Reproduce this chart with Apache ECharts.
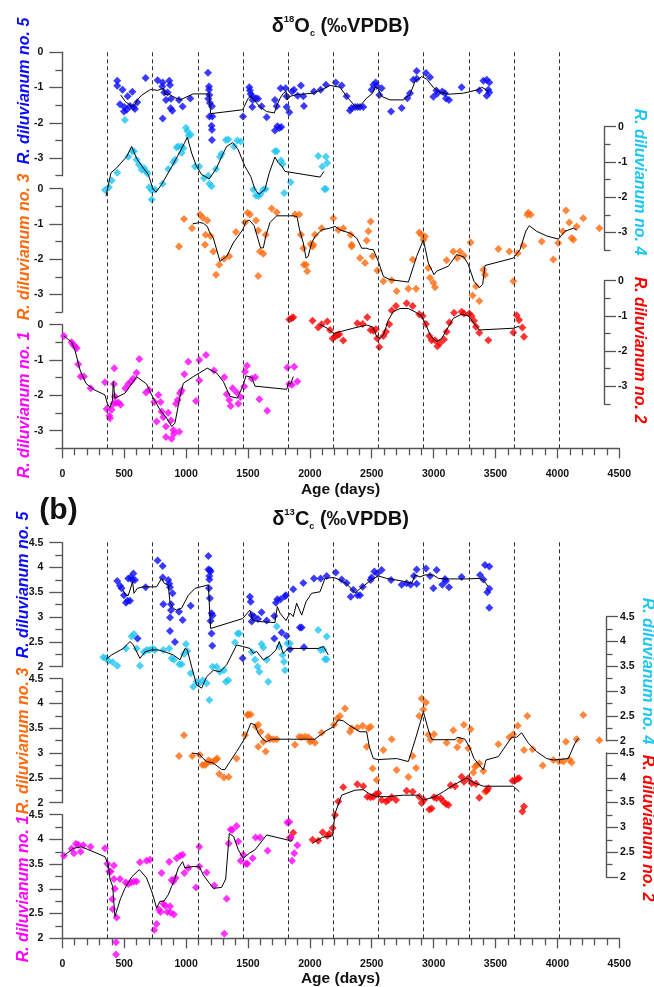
<!DOCTYPE html>
<html><head><meta charset="utf-8">
<script src="https://cdn.jsdelivr.net/npm/echarts@6/dist/echarts.min.js"></script>
<style>html,body{margin:0;padding:0;background:#fff}#c{width:654px;height:987px}</style>
</head><body><div id="c"></div>
<script>
const FONT = '"Liberation Sans", Arial, Helvetica, sans-serif';
const yearMarks = [365,730,1095,1460,1825,2190,2555,2920,3285,3650,4015];
const aMajors = [0,-1,-2,-3];
const aMinors = [-0.5,-1.5,-2.5,-3.5];
const bMajors = [2,2.5,3,3.5,4,4.5];
const bMinors = [2.25,2.75,3.25,3.75,4.25];

// ---------- Panel (a) d18O ----------
const a5Pts = [[444,-0.81],[444,-0.95],[487,-1.06],[466,-1.47],[528,-1.25],[501,-1.55],[566,-1.12],[547,-1.52],[520,-1.63],[574,-1.55],[587,-1.61],[606,-1.42],[498,-1.68],[673,-0.73],[770,-0.79],[811,-0.86],[808,-0.97],[864,-0.81],[870,-0.93],[824,-1.14],[851,-1.14],[838,-1.35],[878,-1.32],[875,-1.59],[889,-1.66],[811,-1.88],[943,-1.35],[972,-1.54],[1034,-1.31],[1177,-0.58],[1185,-0.97],[1185,-1.06],[1188,-1.21],[1180,-1.32],[1193,-1.44],[1209,-1.53],[1188,-1.82],[1212,-1.82],[1206,-2.08],[1209,-2.2],[1209,-2.49],[1460,-1.82],[1511,-0.99],[1516,-1.08],[1522,-1.18],[1535,-1.25],[1538,-1.35],[1535,-1.55],[1565,-1.30],[1581,-1.32],[1610,-1.53],[1651,-1.84],[1718,-1.35],[1732,-1.53],[1764,-1.02],[1804,-1.02],[1812,-1.55],[1834,-1.70],[1718,-2.22],[1737,-2.10],[1753,-2.15],[1769,-2.12],[1812,-1.25],[1855,-1.11],[1872,-1.06],[1901,-1.23],[1928,-0.94],[1947,-1.25],[1952,-1.52],[2033,-1.11],[2087,-1.06],[2130,-0.92],[2209,-0.86],[2257,-0.94],[2297,-1.25],[2338,-1.58],[2324,-1.65],[2365,-1.55],[2386,-1.55],[2405,-1.55],[2432,-1.55],[2499,-1.06],[2513,-0.92],[2532,-0.86],[2540,-0.95],[2561,-1.21],[2580,-1.02],[2656,-1.68],[2742,-1.58],[2788,-1.30],[2809,-1.16],[2836,-0.78],[2863,-0.75],[2863,-0.53],[2938,-0.59],[2971,-0.71],[2998,-1.26],[3022,-1.08],[3030,-1.17],[3070,-1.11],[3092,-1.16],[3100,-1.31],[3124,-1.35],[3226,-0.99],[3369,-1.08],[3402,-0.81],[3429,-0.78],[3450,-0.86],[3442,-1.06],[3450,-1.14],[3429,-1.23]];
const a5Line = [[471,-1.21],[510,-1.40],[560,-1.53],[585,-1.50],[606,-1.35],[640,-1.22],[714,-1.05],[770,-1.08],[816,-1.02],[830,-1.20],[860,-1.18],[891,-1.25],[951,-1.35],[1058,-1.18],[1188,-1.18],[1198,-1.74],[1457,-1.63],[1503,-1.30],[1520,-1.25],[1549,-1.35],[1592,-1.53],[1651,-1.68],[1713,-1.72],[1732,-1.52],[1760,-1.30],[1786,-1.16],[1807,-1.11],[1818,-1.35],[1840,-1.25],[1893,-1.20],[2028,-1.16],[2109,-1.04],[2163,-0.94],[2243,-0.99],[2297,-1.25],[2365,-1.53],[2405,-1.52],[2459,-1.30],[2507,-1.16],[2526,-0.99],[2550,-1.02],[2580,-1.25],[2647,-1.35],[2755,-1.35],[2809,-1.20],[2849,-0.83],[2903,-0.69],[2944,-0.76],[2998,-1.00],[3051,-1.13],[3119,-1.19],[3240,-1.16],[3361,-1.06],[3388,-0.99],[3415,-1.04],[3442,-1.11]];

const a4Pts = [[345,-1.80],[377,-1.72],[399,-1.53],[444,-1.31],[506,0.19],[533,-0.85],[566,-0.70],[579,-0.70],[600,-0.94],[619,-1.08],[641,-1.22],[660,-1.17],[676,-1.27],[689,-1.33],[703,-1.72],[722,-1.81],[722,-2.07],[749,-1.78],[811,-1.62],[856,-1.20],[897,-1.01],[910,-0.94],[924,-0.59],[937,-0.56],[964,-0.56],[964,-0.75],[978,-0.61],[999,-0.03],[1010,-0.12],[1021,-0.26],[1037,-0.23],[1072,-1.13],[1107,-1.13],[1145,-1.46],[1180,-1.39],[1188,-1.62],[1206,-1.69],[1241,-1.20],[1274,-0.85],[1287,-0.77],[1322,-0.38],[1341,-0.36],[1387,-0.56],[1414,-0.39],[1441,-0.42],[1543,-1.78],[1565,-1.95],[1583,-1.97],[1602,-1.92],[1624,-1.78],[1643,-1.77],[1718,-0.70],[1732,-0.70],[1767,-0.96],[1780,-1.06],[1793,-1.88],[1845,-1.58],[2068,-0.83],[2100,-1.13],[2130,-0.85],[2140,-1.03],[2118,-1.77],[2130,-1.77]];
const a4Line = [[353,-1.97],[393,-1.31],[439,-1.17],[520,-0.85],[560,-0.56],[600,-0.90],[650,-1.15],[695,-1.36],[730,-1.74],[757,-1.86],[802,-1.64],[870,-1.22],[937,-0.80],[986,-0.47],[1010,-0.30],[1045,-0.75],[1085,-1.13],[1126,-1.36],[1188,-1.48],[1247,-1.17],[1287,-0.85],[1328,-0.56],[1376,-0.45],[1422,-0.66],[1476,-1.13],[1522,-1.41],[1557,-1.78],[1589,-1.92],[1637,-1.78],[1672,-1.31],[1718,-0.86],[1745,-1.03],[1772,-1.11],[1799,-1.27],[2082,-1.43],[2114,-1.27]];

const a3Pts = [[983,-0.86],[1048,-1.12],[943,-1.64],[1112,-0.73],[1134,-0.82],[1171,-0.90],[1158,-1.31],[1198,-1.34],[1403,-1.23],[1476,-0.96],[1497,-0.68],[1516,-0.73],[1565,-0.90],[1643,-1.31],[1691,-0.56],[1732,-0.67],[1880,-0.73],[1915,-0.73],[1928,-1.31],[2095,-1.12],[2041,-1.31],[2006,-1.57],[2022,-1.64],[1947,-1.69],[1153,-1.59],[1220,-1.78],[1242,-2.44],[1268,-2.16],[1306,-1.99],[1349,-1.92],[1597,-1.78],[1624,-1.85],[1583,-2.48],[1583,-1.19],[1952,-2.16],[1969,-2.16],[1979,-2.34],[2028,-1.59],[2190,-0.84],[2230,-1.17],[2270,-1.12],[2330,-1.31],[2338,-1.64],[2459,-1.47],[2473,-1.21],[2491,-0.93],[2884,-1.24],[2903,-1.31],[2930,-1.36],[2917,-1.45],[3299,-1.53],[3765,-0.68],[3784,-0.74],[3757,-0.74],[3873,-1.50],[4007,-1.54],[4043,-1.21],[4069,-0.62],[4096,-0.96],[4155,-1.07],[4129,-1.45],[4209,-0.84],[4339,-1.12],[2405,-1.97],[2446,-2.11],[2507,-1.92],[2545,-2.32],[2594,-2.63],[2661,-2.60],[2701,-2.91],[2796,-2.84],[2858,-2.84],[2831,-2.01],[2957,-2.25],[2971,-2.53],[2998,-2.67],[3011,-2.80],[3105,-2.03],[3159,-1.78],[3191,-1.97],[3213,-1.78],[3245,-1.90],[3315,-3.03],[3342,-2.77],[3369,-3.19],[3402,-2.30],[3415,-2.44],[3523,-1.71],[3612,-1.78],[3644,-2.63],[3679,-1.83],[3725,-1.62],[3967,-2.01],[4115,-1.40],[2338,-1.59]];
const a3Line = [[1053,-1.00],[1107,-0.96],[1140,-0.98],[1171,-1.07],[1193,-1.26],[1220,-1.40],[1274,-2.06],[1328,-1.92],[1381,-1.54],[1457,-1.17],[1484,-0.93],[1511,-0.89],[1550,-1.05],[1583,-1.45],[1602,-1.68],[1624,-1.68],[1643,-1.36],[1678,-0.96],[1732,-0.77],[1866,-0.77],[1896,-0.79],[1917,-1.17],[1947,-1.54],[1969,-1.97],[1987,-1.92],[2014,-1.54],[2041,-1.36],[2095,-1.17],[2162,-1.12],[2203,-1.07],[2243,-1.17],[2324,-1.26],[2378,-1.40],[2419,-1.69],[2459,-1.69],[2480,-1.72],[2513,-1.73],[2553,-2.06],[2594,-2.49],[2647,-2.58],[2796,-2.65],[2863,-1.92],[2917,-1.45],[2957,-2.11],[3003,-2.44],[3024,-2.34],[3119,-2.20],[3186,-1.87],[3245,-1.94],[3280,-2.15],[3326,-2.63],[3369,-2.81],[3396,-2.72],[3415,-2.18],[3644,-1.97],[3698,-1.73],[3745,-1.20],[3773,-1.05],[3832,-1.21],[3913,-1.34],[4007,-1.43],[4061,-1.21],[4129,-1.12],[4155,-1.17]];

const a1Pts = [[13,-0.32],[75,-0.50],[89,-0.57],[102,-0.62],[116,-0.67],[129,-1.12],[148,-1.47],[175,-1.47],[229,-1.80],[345,-1.63],[358,-2.39],[380,-2.58],[385,-2.65],[399,-2.41],[412,-2.24],[417,-1.68],[420,-1.23],[425,-2.03],[434,-2.22],[452,-2.20],[471,-2.27],[509,-1.80],[533,-1.68],[555,-1.61],[574,-1.52],[600,-1.36],[622,-0.97],[676,-1.92],[700,-1.85],[743,-2.19],[762,-2.74],[776,-1.99],[794,-2.19],[802,-2.46],[816,-2.62],[838,-2.88],[838,-3.18],[856,-2.49],[878,-2.71],[883,-3.23],[897,-2.98],[902,-3.09],[918,-2.24],[932,-2.13],[945,-3.03],[951,-1.94],[964,-1.86],[986,-1.40],[1018,-1.05],[1080,-2.16],[1107,-1.00],[1107,-1.58],[1161,-0.86],[1225,-1.30],[1309,-1.49],[1328,-1.97],[1349,-2.13],[1360,-2.30],[1376,-1.80],[1408,-1.91],[1422,-2.24],[1441,-2.05],[1470,-1.75],[1476,-1.33],[1492,-1.16],[1530,-1.52],[1559,-1.49],[1592,-2.11],[1656,-2.44],[1818,-1.21],[1834,-1.68],[1855,-1.70],[1874,-1.19],[1899,-1.61]];
const a1Line = [[13,-0.32],[75,-0.49],[102,-0.72],[143,-1.28],[191,-1.66],[250,-1.83],[345,-1.99],[364,-2.24],[385,-2.35],[405,-2.15],[412,-1.61],[425,-2.08],[506,-1.94],[574,-1.61],[600,-1.47],[681,-1.68],[722,-1.99],[789,-2.41],[843,-2.65],[883,-2.88],[910,-2.79],[951,-2.03],[978,-1.66],[1058,-1.47],[1112,-1.36],[1171,-1.23],[1247,-1.37],[1301,-1.61],[1355,-2.03],[1414,-2.08],[1457,-1.75],[1484,-1.45],[1530,-1.49],[1557,-1.74],[1813,-1.83],[1826,-1.66],[1845,-1.68],[1866,-1.47]];

const a2Pts = [[1834,-1.10],[1853,-1.07],[1866,-1.04],[2022,-1.14],[2068,-1.33],[2095,-1.24],[2141,-1.16],[2163,-1.40],[2184,-1.64],[2203,-1.59],[2222,-1.54],[2238,-1.52],[2270,-1.70],[2384,-1.21],[2427,-1.23],[2464,-1.04],[2491,-1.40],[2513,-1.42],[2534,-1.38],[2545,-1.64],[2561,-1.88],[2594,-1.57],[2615,-1.45],[2642,-1.24],[2661,-0.85],[2696,-0.72],[2782,-0.64],[2831,-0.72],[2884,-0.95],[2911,-1.00],[2938,-1.23],[2965,-1.57],[2984,-1.69],[3011,-1.69],[3030,-1.86],[3051,-1.78],[3084,-1.67],[3105,-1.45],[3127,-1.19],[3165,-0.91],[3226,-0.88],[3245,-0.93],[3288,-0.93],[3307,-1.00],[3326,-1.14],[3342,-1.31],[3369,-1.48],[3442,-1.69],[3644,-1.47],[3671,-0.98],[3690,-1.12],[3717,-1.33],[3730,-1.59]];
const a2Line = [[2082,-1.24],[2141,-1.35],[2190,-1.50],[2243,-1.45],[2351,-1.35],[2459,-1.26],[2507,-1.31],[2540,-1.59],[2567,-1.64],[2594,-1.54],[2634,-1.12],[2674,-0.88],[2728,-0.79],[2796,-0.79],[2863,-0.91],[2903,-1.00],[2938,-1.26],[2976,-1.57],[3025,-1.73],[3065,-1.64],[3119,-1.31],[3159,-1.07],[3226,-0.95],[3280,-1.00],[3326,-1.21],[3369,-1.40],[3644,-1.35],[3692,-1.29]];

// ---------- Panel (b) d13C ----------
const b5Pts = [[444,3.73],[466,3.63],[479,3.58],[498,3.44],[514,3.29],[528,3.33],[547,3.33],[533,3.78],[552,3.80],[574,3.88],[566,3.75],[587,3.75],[608,2.57],[673,3.60],[770,4.14],[811,4.03],[811,3.80],[816,3.26],[856,3.75],[864,3.67],[870,3.60],[891,3.48],[878,3.26],[878,3.14],[870,2.99],[870,2.72],[910,2.50],[943,3.11],[972,2.94],[1037,3.23],[1180,4.23],[1180,3.96],[1193,3.95],[1198,3.92],[1188,3.83],[1188,3.76],[1185,3.58],[1193,3.38],[1206,3.08],[1214,3.03],[1198,2.92],[1206,2.67],[1212,2.42],[1457,2.17],[1516,3.41],[1522,3.31],[1530,3.04],[1530,2.91],[1549,3.01],[1581,2.96],[1610,3.10],[1651,2.93],[1713,3.02],[1713,2.57],[1726,3.29],[1737,3.36],[1764,3.36],[1799,3.42],[1807,3.44],[1772,2.69],[1812,2.62],[1839,2.35],[1866,3.56],[1920,2.79],[1934,2.79],[1947,3.69],[1952,2.39],[2033,3.78],[2087,3.78],[2136,3.83],[2209,3.90],[2257,3.76],[2297,3.69],[2330,3.41],[2351,3.55],[2384,3.44],[2405,3.44],[2427,3.61],[2491,3.75],[2499,3.80],[2521,3.92],[2545,3.88],[2580,3.95],[2656,3.75],[2742,3.65],[2782,3.68],[2814,3.65],[2841,3.83],[2863,3.96],[2863,3.67],[2938,3.98],[2971,3.83],[2998,3.58],[3024,3.95],[3070,3.65],[3092,3.77],[3100,3.73],[3124,3.60],[3226,3.81],[3375,3.85],[3402,3.76],[3415,4.05],[3450,4.02],[3434,3.50],[3450,3.57],[3450,3.19]];
const b5Line = [[487,3.55],[514,3.44],[533,3.44],[568,3.71],[579,3.48],[606,3.58],[654,3.61],[762,3.61],[802,3.78],[824,3.68],[856,3.65],[870,3.29],[897,3.18],[924,3.14],[964,3.18],[1018,3.44],[1072,3.58],[1180,3.65],[1198,2.77],[1457,2.97],[1516,3.14],[1538,2.94],[1592,2.91],[1718,2.89],[1737,3.21],[1759,3.08],[1807,2.93],[1839,3.08],[1866,3.01],[1893,3.28],[1934,3.04],[1969,3.31],[2014,3.48],[2082,3.51],[2122,3.78],[2190,3.80],[2243,3.75],[2297,3.67],[2365,3.49],[2400,3.56],[2486,3.73],[2553,3.83],[2621,3.78],[2742,3.73],[2823,3.68],[2850,3.85],[2890,3.81],[2930,3.85],[2998,3.85],[3038,3.78],[3105,3.77],[3267,3.77],[3369,3.78],[3402,3.75],[3442,3.61]];

const b4Pts = [[331,3.68],[353,3.66],[372,3.61],[407,3.58],[444,3.51],[514,3.86],[560,4.10],[579,4.15],[600,3.86],[627,3.51],[660,3.79],[681,3.83],[703,3.83],[730,3.86],[749,3.83],[816,3.83],[864,3.86],[883,3.66],[902,3.63],[945,3.54],[964,3.54],[983,3.75],[999,3.95],[1010,3.81],[1037,3.36],[1058,3.09],[1085,3.19],[1107,3.16],[1134,3.22],[1166,3.16],[1188,2.82],[1214,3.49],[1247,3.49],[1274,3.39],[1306,3.42],[1322,3.19],[1341,3.22],[1395,3.98],[1417,4.16],[1430,4.16],[1530,3.79],[1557,3.63],[1578,3.49],[1592,3.39],[1610,3.95],[1624,3.88],[1651,3.63],[1664,3.19],[1732,4.30],[1753,3.90],[1780,3.73],[1791,3.59],[1799,3.42],[1818,3.96],[1839,3.96],[2068,4.23],[2087,3.83],[2122,3.64],[2136,4.10],[2109,3.84],[2136,3.64]];
const b4Line = [[353,3.64],[399,3.73],[493,3.86],[547,4.00],[574,3.93],[627,3.66],[668,3.79],[722,3.83],[776,3.83],[830,3.79],[897,3.73],[951,3.63],[991,3.86],[1010,3.83],[1045,3.49],[1085,3.12],[1126,3.06],[1166,3.29],[1220,3.42],[1274,3.39],[1328,3.53],[1408,3.93],[1457,3.90],[1516,3.86],[1543,3.76],[1570,3.80],[1624,3.63],[1678,3.71],[1726,3.83],[1753,4.00],[1785,3.76],[1826,3.86],[2068,3.86],[2109,3.90],[2149,3.73]];

const b3Pts = [[1503,3.78],[1522,3.78],[943,2.94],[983,3.36],[1050,2.94],[1112,2.96],[1131,2.76],[1153,2.76],[1166,2.79],[1180,2.85],[1198,2.83],[1220,2.83],[1242,2.87],[1252,2.89],[1268,2.58],[1306,2.51],[1344,2.52],[1408,2.89],[1476,3.36],[1495,3.77],[1565,3.53],[1583,3.57],[1583,3.13],[1602,3.43],[1624,3.23],[1643,3.03],[1664,3.33],[1678,3.28],[1705,3.28],[1732,3.28],[1880,3.17],[1915,3.33],[1934,3.32],[1961,3.33],[1987,3.32],[2001,3.23],[2014,3.26],[2041,3.21],[2095,3.41],[2195,3.57],[2222,3.70],[2243,3.75],[2284,3.90],[2324,3.43],[2338,3.50],[2384,3.51],[2427,3.55],[2473,3.50],[2491,3.53],[2459,3.13],[2507,2.69],[2540,2.46],[2594,3.06],[2661,3.28],[2701,2.66],[2796,2.52],[2831,2.94],[2858,2.70],[2884,3.75],[2903,4.10],[2938,4.02],[2917,3.88],[2957,3.37],[2976,3.27],[3003,3.38],[3105,3.21],[3159,3.46],[3191,3.12],[3213,3.25],[3245,3.57],[3280,3.10],[3299,3.48],[3321,2.61],[3334,2.72],[3348,2.76],[3369,2.79],[3402,2.64],[3415,2.22],[3428,2.24],[3523,3.18],[3612,3.32],[3644,3.38],[3679,3.55],[3730,3.06],[3757,3.75],[3800,3.08],[3881,2.75],[3967,2.86],[4015,2.83],[4048,2.83],[4069,3.23],[4096,2.87],[4115,2.81],[4155,3.28],[4209,3.77],[4339,3.26]];
const b3Line = [[1050,3.00],[1107,2.98],[1134,2.90],[1166,2.83],[1220,2.80],[1287,2.67],[1314,2.67],[1355,2.83],[1408,3.03],[1476,3.30],[1522,3.60],[1557,3.57],[1583,3.40],[1624,3.27],[1651,3.23],[1691,3.28],[1839,3.28],[2041,3.28],[2082,3.36],[2130,3.45],[2190,3.53],[2230,3.67],[2270,3.65],[2324,3.55],[2405,3.43],[2459,3.43],[2480,3.13],[2513,2.89],[2553,2.87],[2701,2.89],[2796,2.83],[2850,3.26],[2917,3.83],[2957,3.47],[2984,3.28],[3011,3.27],[3173,3.27],[3191,3.32],[3253,3.28],[3294,3.10],[3326,2.89],[3369,2.76],[3402,2.66],[3423,2.86],[3523,2.93],[3630,3.32],[3671,3.32],[3711,3.41],[3765,3.20],[3832,3.03],[3913,2.89],[3967,2.86],[4088,2.89],[4142,3.20],[4169,3.30]];

const b1Pts = [[13,3.67],[75,3.81],[94,3.72],[110,3.91],[129,3.89],[148,3.75],[170,3.88],[229,3.85],[345,3.82],[364,3.51],[380,3.35],[391,3.35],[404,2.79],[407,2.59],[417,3.47],[417,3.20],[425,3.00],[434,1.92],[439,2.42],[434,1.67],[466,3.20],[512,3.13],[533,3.10],[555,3.13],[579,3.15],[600,3.15],[627,3.54],[681,3.57],[708,3.59],[743,2.17],[762,2.29],[781,2.58],[794,2.53],[802,3.32],[816,2.70],[832,2.66],[848,2.53],[864,3.55],[870,2.65],[875,2.52],[883,3.18],[897,3.15],[902,2.48],[916,3.22],[924,3.62],[951,3.67],[972,3.69],[986,3.32],[1018,3.42],[1080,3.03],[1107,3.85],[1107,3.45],[1166,3.33],[1228,3.07],[1309,2.09],[1328,2.80],[1344,3.92],[1360,4.20],[1373,4.19],[1408,4.27],[1422,3.96],[1441,3.57],[1462,3.69],[1484,3.51],[1495,3.51],[1538,3.62],[1562,4.04],[1597,4.04],[1659,3.77],[1818,4.34],[1834,4.35],[1847,4.04],[1855,3.57],[1874,3.72],[1899,3.88]];
const b1Line = [[13,3.67],[89,3.82],[156,3.85],[345,3.65],[372,3.49],[385,3.20],[407,3.05],[425,2.44],[470,2.80],[506,3.01],[560,3.24],[622,3.39],[681,3.22],[722,2.95],[743,2.78],[762,2.61],[789,2.75],[820,2.75],[856,2.88],[883,3.05],[902,3.15],[937,3.42],[972,3.55],[991,3.42],[1045,3.45],[1107,3.45],[1139,3.28],[1220,3.01],[1287,3.03],[1320,3.20],[1349,4.12],[1384,4.06],[1422,3.79],[1462,3.62],[1511,3.72],[1557,3.79],[1651,4.09],[1818,3.99],[1845,3.96],[1866,4.00]];

const b2Pts = [[1839,2.79],[1866,2.89],[2022,2.75],[2068,2.73],[2103,2.90],[2141,2.83],[2157,2.87],[2184,2.99],[2203,3.25],[2230,3.52],[2270,3.81],[2384,3.87],[2432,3.83],[2464,3.62],[2491,3.61],[2513,3.62],[2534,3.67],[2553,3.69],[2580,3.55],[2615,3.52],[2634,3.55],[2661,3.61],[2696,3.55],[2782,3.74],[2831,3.72],[2884,3.62],[2903,3.49],[2922,3.55],[2965,3.36],[2984,3.38],[3003,3.61],[3024,3.59],[3057,3.59],[3078,3.52],[3100,3.47],[3119,3.45],[3138,3.85],[3173,3.83],[3226,4.02],[3245,3.92],[3280,3.99],[3307,3.89],[3342,3.88],[3369,3.60],[3428,3.74],[3442,3.79],[3638,3.94],[3657,3.94],[3676,3.98],[3690,3.99],[3717,3.32],[3730,3.42]];
const b2Line = [[2022,2.68],[2100,2.80],[2184,2.83],[2203,3.28],[2257,3.65],[2365,3.75],[2432,3.76],[2486,3.67],[2540,3.62],[2621,3.62],[2755,3.65],[2876,3.65],[2917,3.55],[3011,3.62],[3078,3.72],[3159,3.85],[3267,4.00],[3326,3.90],[3402,3.83],[3644,3.83],[3692,3.72]];

const C = {blue:'#0a0aff', cyan:'#1ec6f2', orange:'#ff6a0e', red:'#ff0000', magenta:'#ff00ff'};

// ---------- build ----------
const GL = 62.3, GR = 654 - 619.3;
const grids = [], xAxes = [], yAxes = [], series = [];
const AX = '#555';
function addGrid(top, height){
  grids.push({left:GL, right:GR, top:top, height:height});
  const gi = grids.length - 1;
  xAxes.push({gridIndex:gi, type:'value', min:0, max:4500, show:false, axisLine:{onZero:false}});
  return gi;
}
function addBg(top, height){
  const gi = addGrid(top, height);
  xAxes[gi] = {gridIndex:gi, type:'value', min:0, max:4500, interval:500, position:'bottom',
    axisLine:{show:true, onZero:false, lineStyle:{color:AX, width:1.4}},
    axisTick:{show:true, length:10, lineStyle:{color:AX, width:1.3}},
    minorTick:{show:true, splitNumber:5, length:7, lineStyle:{color:AX, width:1.3}},
    axisLabel:{margin:20, fontSize:10.5, fontWeight:'bold', color:'#111', fontFamily:FONT,
      formatter: v => String(v)},
    splitLine:{show:false}, minorSplitLine:{show:false}};
  yAxes.push({gridIndex:gi, type:'value', min:0, max:1, show:false, axisLine:{onZero:false}});
  const yi = yAxes.length - 1;
  series.push({type:'line', xAxisIndex:gi, yAxisIndex:yi, data:[], silent:true,
    markLine:{silent:true, symbol:['none','none'], label:{show:false},
      lineStyle:{type:[4,3], color:'#333', width:1},
      data: yearMarks.map(d => ({xAxis:d}))}});
  return gi;
}
function addY(gi, side, min, max, majors, minors, offset){
  const left = side === 'left';
  const base = {gridIndex:gi, type:'value', min:min, max:max, position:side, offset:offset,
    splitLine:{show:false}};
  yAxes.push(Object.assign({}, base, {
    axisLine:{show:true, onZero:false, lineStyle:{color:AX, width:1.4}},
    axisTick:{show:true, customValues:majors, length:left?13:12, lineStyle:{color:AX, width:1.3}},
    axisLabel:{show:true, customValues:majors, margin:left?19:14, fontSize:10.5, fontWeight:'bold', color:'#111', fontFamily:FONT}
  }));
  const main = yAxes.length - 1;
  yAxes.push(Object.assign({}, base, {
    axisLine:{show:false, onZero:false},
    axisTick:{show:true, customValues:minors, length:left?7:6.5, lineStyle:{color:AX, width:1.3}},
    axisLabel:{show:false}
  }));
  return main;
}
function addData(gi, yi, pts, line, color){
  series.push({type:'scatter', xAxisIndex:gi, yAxisIndex:yi, data:pts, symbol:'diamond', symbolSize:8,
    itemStyle:{color:color}, clip:false, silent:true, z:3});
  series.push({type:'line', xAxisIndex:gi, yAxisIndex:yi, data:line, showSymbol:false, smooth:false,
    lineStyle:{color:'#000', width:1}, clip:false, silent:true, z:4});
}

// panel a
addBg(52.3, 396);
let g;
g = addGrid(52.3, 123.4);  addData(g, addY(g,'left',-3.5,0,aMajors,aMinors,0), a5Pts, a5Line, C.blue);
g = addGrid(126.7, 123.3); addData(g, addY(g,'right',-3.5,0,aMajors,aMinors,-15.3), a4Pts, a4Line, C.cyan);
g = addGrid(188.7, 123.3); addData(g, addY(g,'left',-3.5,0,aMajors,aMinors,0), a3Pts, a3Line, C.orange);
g = addGrid(280.7, 123.2); addData(g, addY(g,'right',-3.5,0,aMajors,aMinors,-15.3), a2Pts, a2Line, C.red);
g = addGrid(324.7, 123.6); addData(g, addY(g,'left',-3.5,0,aMajors,aMinors,0), a1Pts, a1Line, C.magenta);
// panel b
addBg(541.7, 396.6);
g = addGrid(542.7, 124);   addData(g, addY(g,'left',2,4.5,bMajors,bMinors,0), b5Pts, b5Line, C.blue);
g = addGrid(616.7, 124);   addData(g, addY(g,'right',2,4.5,bMajors,bMinors,-13.3), b4Pts, b4Line, C.cyan);
g = addGrid(678.7, 124);   addData(g, addY(g,'left',2,4.5,bMajors,bMinors,0), b3Pts, b3Line, C.orange);
g = addGrid(753, 124);     addData(g, addY(g,'right',2,4.5,bMajors,bMinors,-13.3), b2Pts, b2Line, C.red);
g = addGrid(814.7, 123.6); addData(g, addY(g,'left',2,4.5,bMajors,bMinors,0), b1Pts, b1Line, C.magenta);

function nameText(x, y, text, color, side){
  return {type:'text', x:x, y:y, rotation: side==='left' ? Math.PI/2 : -Math.PI/2, silent:true, z:10,
    style:{text:text, fill:color, font:'italic bold 16px ' + FONT, align:'center', verticalAlign:'middle'}};
}
function titleText(y, iso){
  return {type:'text', x:340.5, y:y, silent:true, z:10,
    style:{text:'{m|δ}{sup|' + iso + '}{m|' + (iso==='18'?'O':'C') + '}{sub|c}{m| (‰VPDB)}',
      align:'center', verticalAlign:'middle',
      rich:{
        m:{fontSize:20, fontWeight:'bold', fontFamily:FONT, fill:'#111', lineHeight:24},
        sup:{fontSize:9.5, fontWeight:'bold', fontFamily:FONT, fill:'#111', verticalAlign:'top', lineHeight:14},
        sub:{fontSize:9, fontWeight:'bold', fontFamily:FONT, fill:'#111', verticalAlign:'bottom', lineHeight:12}
      }}};
}
const graphics = [
  titleText(26, '18'),
  titleText(519, '13'),
  {type:'text', x:58.5, y:511, silent:true, style:{text:'(b)', font:'bold 30px ' + FONT, fill:'#111', align:'center', verticalAlign:'middle'}},
  {type:'text', x:340.5, y:490, silent:true, style:{text:'Age (days)', font:'bold 15.5px ' + FONT, fill:'#111', align:'center', verticalAlign:'middle'}},
  {type:'text', x:340.5, y:979, silent:true, style:{text:'Age (days)', font:'bold 15.5px ' + FONT, fill:'#111', align:'center', verticalAlign:'middle'}},
  nameText(25, 91, 'R. diluvianum no. 5', C.blue, 'left'),
  nameText(25, 247, 'R. diluvianum no. 3', C.orange, 'left'),
  nameText(25, 405, 'R. diluvianum no. 1', C.magenta, 'left'),
  nameText(639, 182, 'R. diluvianum no. 4', C.cyan, 'right'),
  nameText(639, 350, 'R. diluvianum no. 2', C.red, 'right'),
  nameText(24, 585, 'R. diluvianum no. 5', C.blue, 'left'),
  nameText(24, 741, 'R. diluvianum no. 3', C.orange, 'left'),
  nameText(24, 889, 'R. diluvianum no. 1', C.magenta, 'left'),
  nameText(647, 671, 'R. diluvianum no. 4', C.cyan, 'right'),
  nameText(647, 828, 'R. diluvianum no. 2', C.red, 'right')
];

const chart = echarts.init(document.getElementById('c'), null, {renderer:'canvas'});
chart.setOption({
  animation:false,
  backgroundColor:'#fff',
  grid:grids, xAxis:xAxes, yAxis:yAxes, series:series, graphic:graphics
});
</script></body></html>
